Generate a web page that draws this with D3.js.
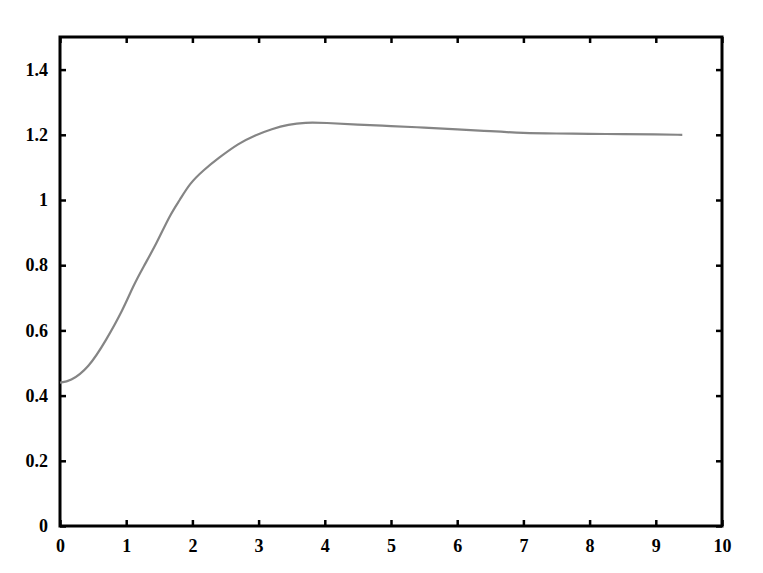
<!DOCTYPE html>
<html>
<head>
<meta charset="utf-8">
<script src="https://cdn.jsdelivr.net/npm/d3@7"></script>
<style>
  body { margin: 0; background: #fff; }
  .axis text { font-family: "Liberation Serif", "DejaVu Serif", serif; font-weight: bold; font-size: 18px; fill: #000; }
  .axis path { display: none; }
  .axis line { stroke: #000; stroke-width: 2.5; }
</style>
</head>
<body>
<svg id="chart"></svg>
<script>
// data
var xVals = [0, 0.15, 0.43, 0.7, 0.95, 1.1, 1.26, 1.46, 1.66, 1.81, 1.96, 2.17, 2.39, 2.7, 2.95, 3.2, 3.45, 3.7, 4.0, 4.5, 5.0, 5.5, 6.0, 6.5, 7.0, 7.5, 8.0, 8.5, 9.0, 9.4];
var yVals = [0.44, 0.443, 0.484, 0.571, 0.663, 0.734, 0.795, 0.867, 0.954, 1.0, 1.051, 1.092, 1.128, 1.174, 1.199, 1.218, 1.232, 1.238, 1.237, 1.231, 1.227, 1.222, 1.217, 1.211, 1.205, 1.204, 1.203, 1.202, 1.201, 1.2];
var xTicks = [0, 1, 2, 3, 4, 5, 6, 7, 8, 9, 10];
var yTicks = [0, 0.2, 0.4, 0.6, 0.8, 1, 1.2, 1.4];

var width = 763;
var height = 573;
var plotLeft = 60, plotRight = 722, plotTop = 37, plotBottom = 526;

var svg = d3.select("#chart")
  .attr("width", width)
  .attr("height", height);

var x = d3.scaleLinear().domain([0, 10]).range([plotLeft, plotRight]);
var y = d3.scaleLinear().domain([0, 1.5]).range([plotBottom, plotTop]);

var fmt = d => d3.format("")(d);

// bottom axis w/ labels, ticks pointing in
svg.append("g")
  .classed("axis", true)
  .attr("transform", "translate(0," + plotBottom + ")")
  .call(d3.axisBottom(x).tickValues(xTicks).tickSize(-6).tickPadding(13).tickFormat(fmt));

svg.append("g")
  .classed("axis", true)
  .attr("transform", "translate(" + plotLeft + ",0)")
  .call(d3.axisLeft(y).tickValues(yTicks).tickSize(-6).tickPadding(12).tickFormat(fmt));

// mirrored ticks on top and right
svg.append("g")
  .classed("axis", true)
  .attr("transform", "translate(0," + plotTop + ")")
  .call(d3.axisTop(x).tickValues(xTicks).tickSize(-6).tickFormat(""));

svg.append("g")
  .classed("axis", true)
  .attr("transform", "translate(" + plotRight + ",0)")
  .call(d3.axisRight(y).tickValues(yTicks).tickSize(-6).tickFormat(""));

// frame
svg.append("rect")
  .attr("x", plotLeft)
  .attr("y", plotTop)
  .attr("width", plotRight - plotLeft)
  .attr("height", plotBottom - plotTop)
  .attr("fill", "none")
  .attr("stroke", "#000")
  .attr("stroke-width", 3);

// basis curve smooths out the reading noise a bit
var line = d3.line()
  .x((d, i) => x(xVals[i]))
  .y(d => y(d))
  .curve(d3.curveBasis);

svg.append("path")
  .datum(yVals)
  .attr("d", line)
  .attr("fill", "none")
  .attr("stroke", "#858585")
  .attr("stroke-width", 2.2);
</script>
</body>
</html>
